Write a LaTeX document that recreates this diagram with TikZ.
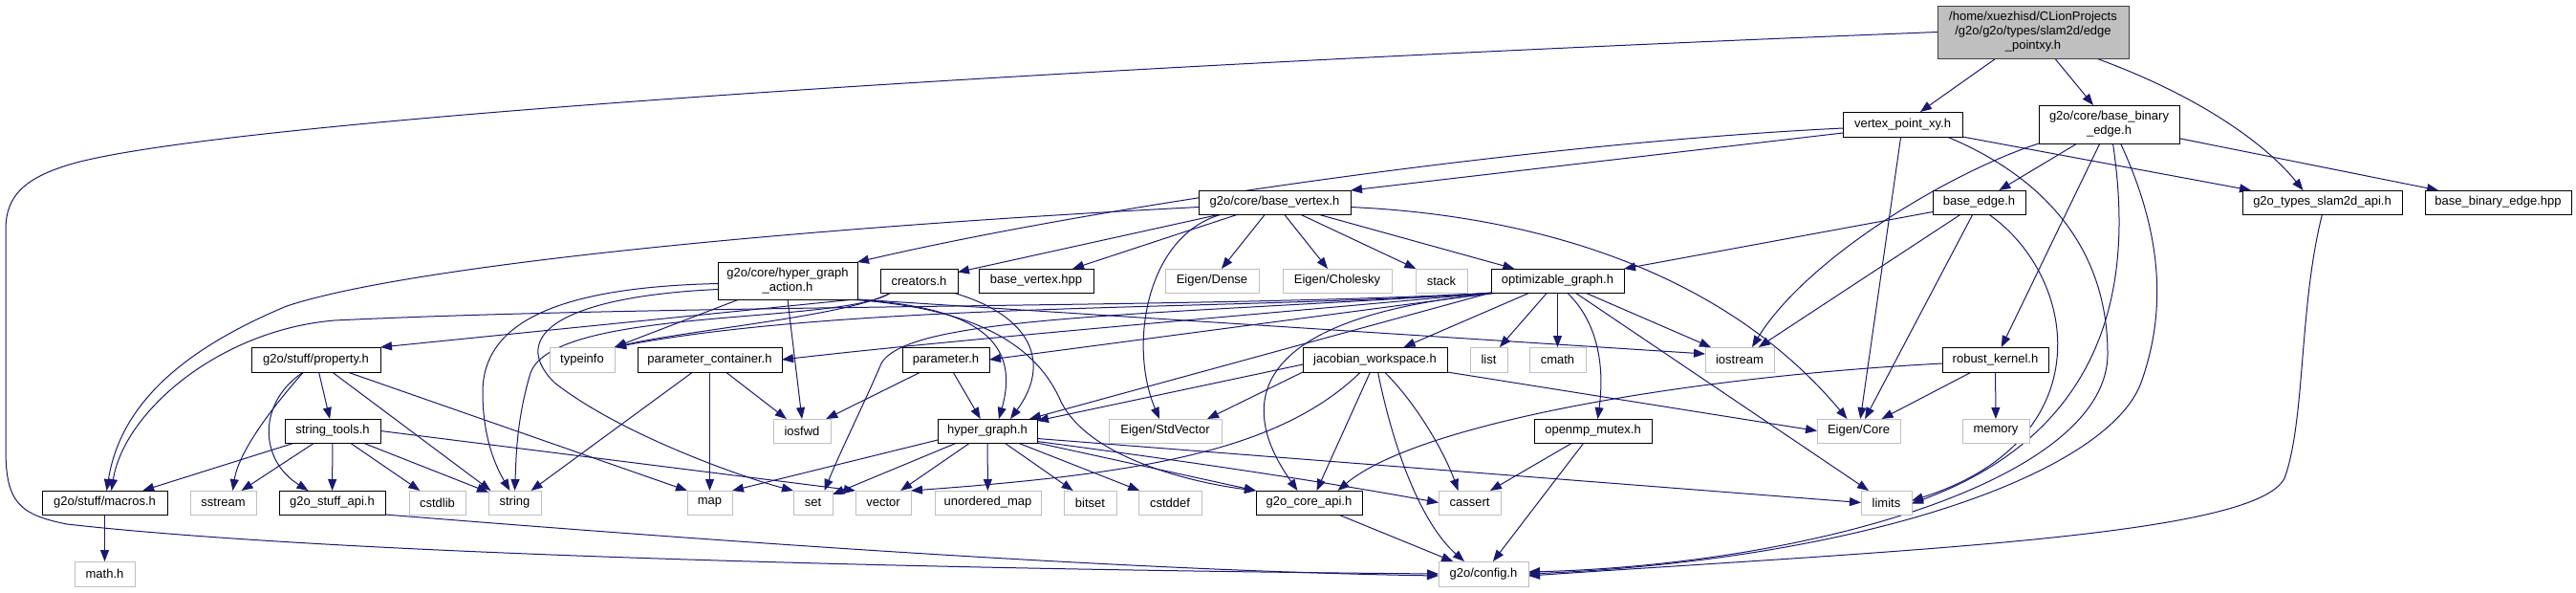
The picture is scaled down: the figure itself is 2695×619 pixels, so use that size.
\documentclass[tikz,border=0pt]{standalone}
\usepackage{fontspec}
\setmainfont{Liberation Sans}
\usetikzlibrary{arrows.meta}
\definecolor{edgec}{HTML}{191970}
\definecolor{grayb}{HTML}{BFBFBF}
\definecolor{rootb}{HTML}{404040}
\pgfdeclarelayer{paper}
\pgfdeclarelayer{bg}
\pgfsetlayers{paper,bg,main}
\newcommand\fsz{\fontsize{13}{15}\selectfont}
\newcommand\mkbox[7]{\node[#7, minimum width={(#4-#2)*1pt}, minimum height={(#5-#3)*1pt}] (#1) at ({(#2+#4)/2},{(#3+#5)/2}) {#6};}
\begin{document}
\begin{tikzpicture}[x=1pt,y=-1pt,
  nb/.style={draw=black, fill=white, line width=1pt, inner sep=0pt, outer sep=0pt, font=\fsz, align=center, text=black},
  ng/.style={nb, draw=grayb},
  nr/.style={nb, draw=rootb, fill=grayb},
  e/.style={draw=edgec, line width=1pt, -{Triangle[length=12pt,width=9pt]}}]
\useasboundingbox (0,0) rectangle (2695,619);
\begin{pgfonlayer}{paper}
\fill[white] (0,0) rectangle (2695,619);
\end{pgfonlayer}

\mkbox{root}{2027}{6}{2227}{61}{/home/xuezhisd/CLionProjects\\/g2o/g2o/types/slam2d/edge\\\_pointxy.h}{nr}
\mkbox{vpxy}{1928}{117}{2053}{143}{vertex\_point\_xy.h}{nb}
\mkbox{bbe}{2133}{110}{2280}{150}{g2o/core/base\_binary\\\_edge.h}{nb}
\mkbox{be}{2022}{199}{2119}{224}{base\_edge.h}{nb}
\mkbox{slam}{2346}{199}{2513}{224}{g2o\_types\_slam2d\_api.h}{nb}
\mkbox{bbehpp}{2537}{199}{2690}{224}{base\_binary\_edge.hpp}{nb}
\mkbox{bv}{1254}{199}{1413}{224}{g2o/core/base\_vertex.h}{nb}
\mkbox{hga}{751}{274}{897}{313}{g2o/core/hyper\_graph\\\_action.h}{nb}
\mkbox{creators}{921}{281}{1002}{306}{creators.h}{nb}
\mkbox{bvhpp}{1024}{281}{1144}{306}{base\_vertex.hpp}{nb}
\mkbox{dense}{1219}{281}{1317}{306}{Eigen/Dense}{ng}
\mkbox{chol}{1342}{281}{1456}{306}{Eigen/Cholesky}{ng}
\mkbox{stack}{1481}{281}{1535}{306}{stack}{ng}
\mkbox{og}{1560}{281}{1699}{306}{optimizable\_graph.h}{nb}
\mkbox{property}{263}{363}{398}{389}{g2o/stuff/property.h}{nb}
\mkbox{typeinfo}{575}{363}{643}{389}{typeinfo}{ng}
\mkbox{paramcont}{667}{363}{818}{389}{parameter\_container.h}{nb}
\mkbox{param}{944}{363}{1035}{389}{parameter.h}{nb}
\mkbox{jac}{1363}{363}{1514}{389}{jacobian\_workspace.h}{nb}
\mkbox{list}{1538}{363}{1577}{389}{list}{ng}
\mkbox{cmath}{1600}{363}{1659}{389}{cmath}{ng}
\mkbox{iostream}{1784}{363}{1856}{389}{iostream}{ng}
\mkbox{robust}{2032}{363}{2143}{389}{robust\_kernel.h}{nb}
\mkbox{stringtools}{298}{438}{398}{463}{string\_tools.h}{nb}
\mkbox{iosfwd}{809}{438}{869}{463}{iosfwd}{ng}
\mkbox{hg}{981}{438}{1085}{463}{hyper\_graph.h}{nb}
\mkbox{stdvector}{1160}{438}{1278}{463}{Eigen/StdVector}{ng}
\mkbox{openmp}{1605}{438}{1728}{463}{openmp\_mutex.h}{nb}
\mkbox{eigencore}{1901}{438}{1988}{463}{Eigen/Core}{ng}
\mkbox{memory}{2053}{438}{2123}{463}{memory}{ng}
\mkbox{macros}{44}{513}{175}{538}{g2o/stuff/macros.h}{nb}
\mkbox{sstream}{199}{513}{268}{538}{sstream}{ng}
\mkbox{stuffapi}{292}{513}{403}{538}{g2o\_stuff\_api.h}{nb}
\mkbox{cstdlib}{428}{513}{487}{538}{cstdlib}{ng}
\mkbox{string}{511}{513}{566}{538}{string}{ng}
\mkbox{map}{719}{513}{766}{538}{map}{ng}
\mkbox{set}{830}{513}{871}{538}{set}{ng}
\mkbox{vector}{895}{513}{953}{538}{vector}{ng}
\mkbox{umap}{978}{513}{1089}{538}{unordered\_map}{ng}
\mkbox{bitset}{1113}{513}{1168}{538}{bitset}{ng}
\mkbox{cstddef}{1191}{513}{1257}{538}{cstddef}{ng}
\mkbox{corea}{1314}{513}{1425}{538}{g2o\_core\_api.h}{nb}
\mkbox{cassert}{1505}{513}{1570}{538}{cassert}{ng}
\mkbox{limits}{1947}{513}{2000}{538}{limits}{ng}
\mkbox{math}{78}{587}{141}{613}{math.h}{ng}
\mkbox{config}{1505}{587}{1599}{613}{g2o/config.h}{ng}

\begin{pgfonlayer}{bg}
% root
\draw[e] (root) -- (vpxy);
\draw[e] (root) -- (bbe);
\draw[e] ([xshift=-34pt]root.south east) .. controls (2300,100) and (2370,150) .. ([xshift=-20pt]slam.north);
\draw[e] (root.west) .. controls (1100,70) and (250,125) .. (80,170) .. controls (25,185) and (6,205) .. (6,240) -- (6,470) .. controls (6,525) and (20,538) .. (70,548) .. controls (400,585) and (1150,597) .. (config.west);
% vertex_point_xy
\draw[e] ([yshift=-4pt]vpxy.west) .. controls (1600,150) and (1150,215) .. (hga.north east);
\draw[e] ([yshift=-9pt]vpxy.west) -- (bv.north east);
\draw[e] (vpxy.south east) -- ([xshift=9pt]slam.north west);
\draw[e] (vpxy) -- (eigencore);
\draw[e] ([xshift=-16pt]vpxy.south east) .. controls (2150,190) and (2205,270) .. (2205,370) .. controls (2205,500) and (1900,590) .. ([yshift=2pt]config.east);
% base_binary_edge
\draw[e] (bbe) -- (be);
\draw[e] (bbe) -- (bbehpp);
\draw[e] (bbe.south west) .. controls (2040,180) and (1890,270) .. ([xshift=13pt]iostream.north);
\draw[e] (bbe) -- (robust);
\draw[e] ([xshift=4pt]bbe.south) .. controls (2225,250) and (2235,440) .. ([yshift=-1pt]limits.east);
\draw[e] ([xshift=12pt]bbe.south) .. controls (2265,250) and (2265,330) .. (2240,400) .. controls (2205,495) and (1950,585) .. (config.east);
% base_edge
\draw[e] ([yshift=-10pt]be.west) -- (og.north east);
\draw[e] (be) -- (iostream);
\draw[e] (be) -- (eigencore);
\draw[e] ([xshift=10pt]be.south) .. controls (2175,290) and (2200,460) .. ([yshift=2pt]limits.east);
% slam2d api
\draw[e] (slam.south) .. controls (2405,320) and (2412,440) .. (2390,500) .. controls (2360,560) and (2000,575) .. ([yshift=-2pt]config.east);
% base_vertex
\draw[e] ([yshift=-5pt]bv.west) .. controls (800,240) and (420,280) .. (300,320) .. controls (180,370) and (125,430) .. ([xshift=2pt]macros.north);
\draw[e] (bv) -- (creators);
\draw[e] (bv) -- (bvhpp);
\draw[e] (bv) -- (dense);
\draw[e] (bv) -- (chol);
\draw[e] (bv) -- (stack);
\draw[e] (bv) -- (og);
\draw[e] ([xshift=-55pt]bv.south) .. controls (1200,245) and (1180,360) .. ([xshift=-6pt]stdvector.north);
\draw[e] ([yshift=-5pt]bv.east) .. controls (1600,225) and (1800,280) .. ([xshift=-12pt]eigencore.north);
% hyper_graph_action
\draw[e] ([xshift=-4pt]hga.south east) .. controls (1010,320) and (1070,350) .. ([xshift=12pt]hg.north);
\draw[e] ([xshift=-3pt]hga.south east) -- (property.north east);
\draw[e] (hga) -- (typeinfo);
\draw[e] (hga.south) -- (iosfwd.north);
\draw[e] ([yshift=-9pt]hga.west) .. controls (590,310) and (530,350) .. (580,400) .. controls (650,455) and (780,500) .. (set.north west);
\draw[e] ([yshift=-3pt]hga.west) .. controls (600,300) and (505,330) .. (505,410) .. controls (505,460) and (520,490) .. ([xshift=-5pt]string.north);
\draw[e] (hga.south east) -- ([yshift=6pt]iostream.west);
\draw[e] ([xshift=-10pt]hga.south east) .. controls (1000,320) and (1080,350) .. (1110,420) .. controls (1140,480) and (1250,505) .. (corea.north west);
% creators
\draw[e] ([xshift=-5pt]creators.south east) .. controls (1080,330) and (1100,380) .. ([xshift=24pt]hg.north);
\draw[e] ([xshift=11pt]creators.south west) .. controls (880,340) and (580,320) .. (555,390) .. controls (540,440) and (540,480) .. (string.north);
\draw[e] ([xshift=11pt]creators.south west) .. controls (890,330) and (720,345) .. (typeinfo.north east);
% optimizable_graph
\draw[e] ([xshift=3pt]og.south west) .. controls (1300,325) and (900,315) .. (typeinfo.north east);
\draw[e] ([xshift=4pt]og.south west) .. controls (1300,330) and (1000,355) .. (paramcont.east);
\draw[e] ([xshift=2pt]og.south west) .. controls (1300,322) and (700,318) .. (350,335) .. controls (230,345) and (130,430) .. ([xshift=7pt]macros.north);
\draw[e] (og.south west) -- ([xshift=-8pt]hg.north east);
\draw[e] ([xshift=5pt]og.south west) -- (param.east);
\draw[e] ([xshift=6pt]og.south west) .. controls (1200,330) and (950,330) .. (922,380) .. controls (905,420) and (880,470) .. ([xshift=12pt]set.north);
\draw[e] ([xshift=10pt]og.south west) .. controls (1250,335) and (1320,460) .. ([xshift=-12pt]corea.north);
\draw[e] (og) -- (jac);
\draw[e] (og) -- (list);
\draw[e] (og.south) -- (cmath.north);
\draw[e] ([xshift=10pt]og.south) .. controls (1675,340) and (1678,390) .. ([xshift=5pt]openmp.north);
\draw[e] (og) -- (iostream);
\draw[e] (og) -- (limits);
% property
\draw[e] (property) -- (stringtools);
\draw[e] ([xshift=-13pt]property.south) .. controls (290,420) and (250,470) .. ([xshift=10pt]sstream.north);
\draw[e] ([xshift=-13pt]property.south) .. controls (270,420) and (270,480) .. ([xshift=-25pt]stuffapi.north);
\draw[e] ([xshift=17pt]property.south) -- ([xshift=-25pt]string.north);
\draw[e] ([xshift=33pt]property.south) -- (map.north west);
% string_tools
\draw[e] (stringtools) -- (macros);
\draw[e] (stringtools) -- (sstream);
\draw[e] (stringtools) -- (stuffapi);
\draw[e] (stringtools) -- (cstdlib);
\draw[e] (stringtools) -- (string);
\draw[e] (stringtools.east) -- (vector.north west);
% stuff api, macros
\draw[e] (stuffapi.south east) .. controls (800,570) and (1200,597) .. ([yshift=-2pt]config.west);
\draw[e] (macros) -- (math);
% parameter_container, parameter
\draw[e] (paramcont) -- (string);
\draw[e] (paramcont) -- (map);
\draw[e] (paramcont) -- (iosfwd);
\draw[e] (param) -- (iosfwd);
\draw[e] (param) -- (hg);
% jacobian_workspace
\draw[e] ([yshift=-5pt]jac.west) -- ([yshift=-2pt]hg.north east);
\draw[e] (jac.south west) -- ([xshift=-15pt]stdvector.north east);
\draw[e] ([xshift=-15pt]jac.south) .. controls (1340,470) and (1200,495) .. (vector.north east);
\draw[e] ([xshift=-5pt]jac.south) -- ([xshift=8pt]corea.north);
\draw[e] ([xshift=3pt]jac.south) .. controls (1460,480) and (1490,550) .. ([xshift=-20pt]config.north);
\draw[e] ([xshift=10pt]jac.south) .. controls (1480,420) and (1510,470) .. ([xshift=-12pt]cassert.north);
\draw[e] (jac.south east) -- (eigencore.west);
% hyper_graph
\draw[e] ([yshift=3pt]hg.south west) -- (map.north east);
\draw[e] ([xshift=20pt]hg.south west) -- ([yshift=-4pt]set.north east);
\draw[e] (hg) -- (vector);
\draw[e] (hg) -- (umap);
\draw[e] (hg) -- (bitset);
\draw[e] (hg) -- (cstddef);
\draw[e] (hg.south east) -- (corea.north west);
\draw[e] ([yshift=-11pt]hg.east) .. controls (1300,490) and (1420,510) .. (cassert.west);
\draw[e] ([yshift=-8pt]hg.east) -- (limits.west);
% openmp, robust, core api
\draw[e] (openmp) -- (cassert);
\draw[e] (openmp) -- (config);
\draw[e] (robust) -- (eigencore);
\draw[e] (robust) -- (memory);
\draw[e] ([yshift=-4pt]robust.west) .. controls (1750,395) and (1480,445) .. ([xshift=30pt]corea.north);
\draw[e] (corea) -- (config);
\end{pgfonlayer}
\end{tikzpicture}
\end{document}
